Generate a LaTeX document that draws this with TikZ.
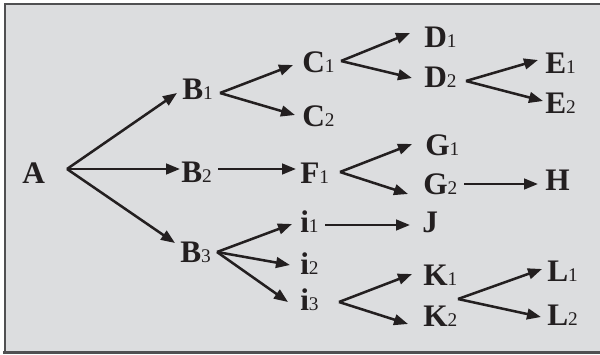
\documentclass[tikz,border=0pt]{standalone}
\usepackage{fontspec}
\setmainfont{Liberation Serif}
\usetikzlibrary{arrows.meta}
\definecolor{bgfill}{HTML}{DCDDDF}
\definecolor{framec}{HTML}{505052}
\definecolor{ink}{HTML}{231F20}
\newcommand{\lbl}[2]{\textbf{#1}{\fontsize{14.5}{14.5}\selectfont\mdseries #2}}
\tikzset{
  lab/.style={anchor=base west, inner sep=0pt, text=ink, font=\fontsize{23.5}{25}\selectfont\bfseries},
  arr/.style={draw=ink, line width=1.9pt, -{Triangle[length=10.5pt,width=8pt]}},
}
\begin{document}
\begin{tikzpicture}[x=0.75pt,y=-0.75pt]
\useasboundingbox (0,0) rectangle (600,354);
\fill[bgfill] (4,3) rectangle (606,354);
\draw[framec, line width=1.5pt] (4.5,354) -- (4.5,3.5) -- (606,3.5);
\draw[framec, line width=2.2pt] (3,352.8) -- (606,352.8);
% nodes
\node[lab] (A)  at (22,183) {\textbf{A}};
\node[lab] (B1) at (182,99) {\lbl{B}{1}};
\node[lab] (B2) at (181,182) {\lbl{B}{2}};
\node[lab] (B3) at (180,262) {\lbl{B}{3}};
\node[lab] (C1) at (302,72) {\lbl{C}{1}};
\node[lab] (C2) at (302,126) {\lbl{C}{2}};
\node[lab] (D1) at (424,47) {\lbl{D}{1}};
\node[lab] (D2) at (424,87) {\lbl{D}{2}};
\node[lab] (E1) at (545,73) {\lbl{E}{1}};
\node[lab] (E2) at (545,113) {\lbl{E}{2}};
\node[lab] (F1) at (300,183) {\lbl{F}{1}};
\node[lab] (G1) at (425,155) {\lbl{G}{1}};
\node[lab] (G2) at (423,194) {\lbl{G}{2}};
\node[lab] (H)  at (545,190) {\textbf{H}};
\node[lab] (i1) at (300,232) {\lbl{i}{1}};
\node[lab] (i2) at (300,274) {\lbl{i}{2}};
\node[lab] (i3) at (300,310) {\lbl{i}{3}};
\node[lab] (J)  at (422,232) {\textbf{J}};
\node[lab] (K1) at (423,285) {\lbl{K}{1}};
\node[lab] (K2) at (423,326) {\lbl{K}{2}};
\node[lab] (L1) at (547,281) {\lbl{L}{1}};
\node[lab] (L2) at (547,325) {\lbl{L}{2}};
% connectors
\draw[arr] ([shift={(45,-14)}]A.base west) -- ([shift={(-5,-6)}]B1.base west);
\draw[arr] ([shift={(45,-14)}]A.base west) -- ([shift={(-1,-13)}]B2.base west);
\draw[arr] ([shift={(45,-14)}]A.base west) -- ([shift={(-5,-19)}]B3.base west);
\draw[arr] ([shift={(38,-6)}]B1.base west) -- ([shift={(-9,-7)}]C1.base west);
\draw[arr] ([shift={(38,-6)}]B1.base west) -- ([shift={(-7,-11)}]C2.base west);
\draw[arr] ([shift={(39,-11)}]C1.base west) -- ([shift={(-14,-14)}]D1.base west);
\draw[arr] ([shift={(39,-11)}]C1.base west) -- ([shift={(-12,-9)}]D2.base west);
\draw[arr] ([shift={(42,-6)}]D2.base west) -- ([shift={(-7,-13)}]E1.base west);
\draw[arr] ([shift={(42,-6)}]D2.base west) -- ([shift={(-2,-12)}]E2.base west);
\draw[arr] ([shift={(37,-13)}]B2.base west) -- ([shift={(-4,-14)}]F1.base west);
\draw[arr] ([shift={(40,-11)}]F1.base west) -- ([shift={(-13,-11)}]G1.base west);
\draw[arr] ([shift={(40,-11)}]F1.base west) -- ([shift={(-15,0)}]G2.base west);
\draw[arr] ([shift={(41,-10)}]G2.base west) -- ([shift={(-7,-6)}]H.base west);
\draw[arr] ([shift={(37,-10)}]B3.base west) -- ([shift={(-8,-8)}]i1.base west);
\draw[arr] ([shift={(37,-10)}]B3.base west) -- ([shift={(-10,-9)}]i2.base west);
\draw[arr] ([shift={(37,-10)}]B3.base west) -- ([shift={(-12,-8)}]i3.base west);
\draw[arr] ([shift={(25,-7)}]i1.base west) -- ([shift={(-12,-7)}]J.base west);
\draw[arr] ([shift={(39,-8)}]i3.base west) -- ([shift={(-11,-11)}]K1.base west);
\draw[arr] ([shift={(39,-8)}]i3.base west) -- ([shift={(-15,-2)}]K2.base west);
\draw[arr] ([shift={(35,-27)}]K2.base west) -- ([shift={(-5,-12)}]L1.base west);
\draw[arr] ([shift={(35,-27)}]K2.base west) -- ([shift={(-6,-8)}]L2.base west);
\end{tikzpicture}
\end{document}
